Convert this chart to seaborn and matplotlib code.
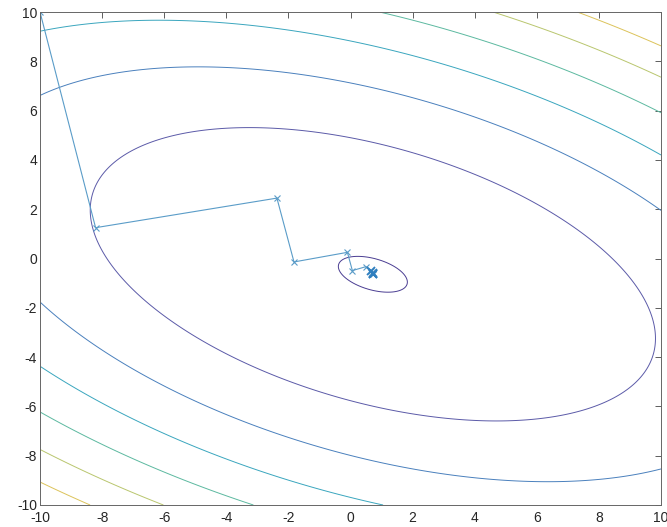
import numpy as np
import matplotlib
matplotlib.use("Agg")
import matplotlib.pyplot as plt
import seaborn as sns
import pandas as pd

# quadratic bowl: f = a*dx^2 + 2*b*dx*dy + c*dy^2
center_x = 0.72
center_y = -0.64
coef_a = 1.0
coef_b = 0.669
coef_c = 2.34
levels = [1, 67, 134, 201, 268, 335, 402]

# gradient-descent path
path_x = [-10.0, -8.21, -2.37, -1.82, -0.10, 0.06, 0.50, 0.66, 0.72, 0.74, 0.73]
path_y = [10.0, 1.25, 2.45, -0.14, 0.25, -0.49, -0.33, -0.52, -0.60, -0.63, -0.64]

tick_vals = [-10, -8, -6, -4, -2, 0, 2, 4, 6, 8, 10]

sns.set_style("white")
plt.rcParams['font.family'] = ['Liberation Sans', 'DejaVu Sans']
plt.rcParams['axes.unicode_minus'] = False

level_colors = ["#4a3d92", "#5b5aa8", "#4a80bd", "#3aa6be", "#5cb9a0", "#b9c66e", "#dcc35a"]

fig = plt.figure(figsize=(6.67, 5.27), dpi=100)
ax = fig.add_axes([40/667, 22/527, 621/667, 493/527])

gx = np.linspace(-10, 10, 401)
gy = np.linspace(-10, 10, 401)
X, Y = np.meshgrid(gx, gy)
DX, DY = X - center_x, Y - center_y
Z = coef_a * DX**2 + 2 * coef_b * DX * DY + coef_c * DY**2
ax.contour(X, Y, Z, levels=levels, colors=level_colors, linewidths=0.7)

df = pd.DataFrame({"x": path_x, "y": path_y, "step": range(len(path_x))})
sns.lineplot(data=df, x="x", y="y", sort=False, estimator=None, ax=ax,
             color="#5a9cc8", linewidth=0.8, marker="x", markersize=5,
             markeredgecolor="#5a9cc8", markeredgewidth=0.8)
ax.plot(path_x[-4:], path_y[-4:], linestyle="none", marker="x", markersize=5.5,
        markeredgecolor="#2f7fbf", markeredgewidth=1.3)

ax.set_xlim(-10, 10)
ax.set_ylim(-10, 10)
ax.set_xticks(tick_vals)
ax.set_yticks(tick_vals)
ax.set_xlabel("")
ax.set_ylabel("")
ax.tick_params(direction="in", top=True, right=True, length=4, width=0.6,
               colors="#444444", labelsize=10, labelcolor="#262626", pad=2)
ax.tick_params(axis="x", pad=4)
for s in ax.spines.values():
    s.set_color("#666666")
    s.set_linewidth(0.7)

fig.savefig("out.png", dpi=100)
